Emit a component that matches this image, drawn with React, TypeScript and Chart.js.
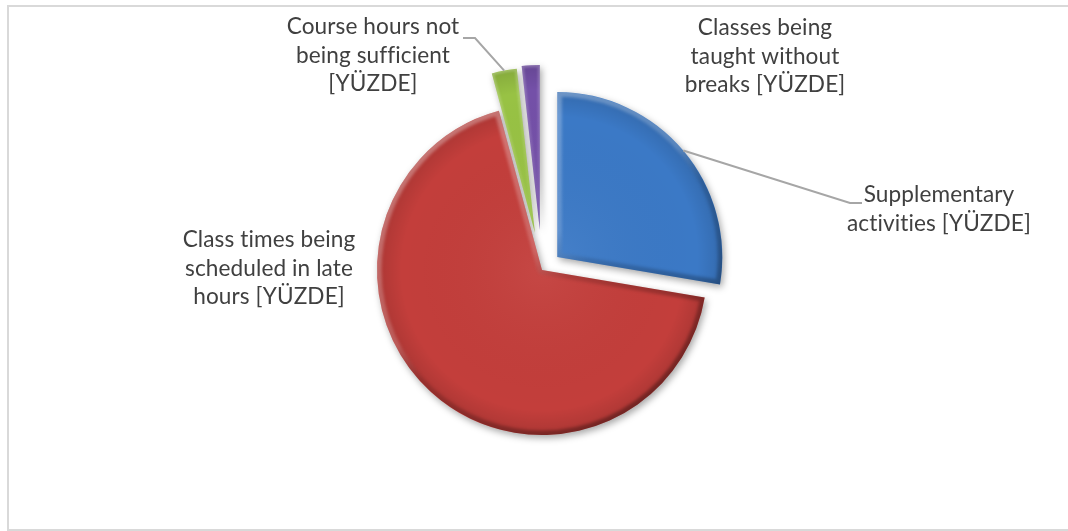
import React, { useEffect, useRef } from 'react';
import { Chart, registerables } from 'chart.js';

Chart.register(...registerables);

// ---- data ----
const categories: string[][] = [
  ['Supplementary', 'activities [YÜZDE]'],
  ['Class times being', 'scheduled in late', 'hours [YÜZDE]'],
  ['Course hours not', 'being sufficient', '[YÜZDE]'],
  ['Classes being', 'taught without', 'breaks [YÜZDE]'],
];
const values: number[] = [27.6, 68.0, 2.45, 1.75];

// ---- styles ----
const baseColors = ['#3b79c6', '#c33e3b', '#98c244', '#7450a8'];
const explode = [20, 0, 38, 40];
const RADIUS = 165;
const FONT_SIZE = 22.6;
const LINE_H = 28.5;
const TEXT_COLOR = '#404040';
// label centre x and first-line y, relative to the pie centre
const labelAnchors: number[][] = [[397, -75], [-273, -30], [-169, -243], [223, -242]];
// leader polylines (after the slice edge point), relative to pie centre
const leaders: { index: number; pts: number[][] }[] = [
  { index: 0, pts: [[308, -67], [320, -67]] },
  { index: 2, pts: [[-67, -232], [-79, -232]] },
];

function arcPath(ctx: CanvasRenderingContext2D, a: any) {
  ctx.beginPath();
  ctx.moveTo(a.x, a.y);
  ctx.arc(a.x, a.y, a.outerRadius, a.startAngle, a.endAngle);
  ctx.closePath();
}

const explodePlugin = {
  id: 'explodeSlices',
  afterDatasetsUpdate(chart: any) {
    const meta = chart.getDatasetMeta(0);
    meta.data.forEach((arc: any, i: number) => {
      const mid = (arc.startAngle + arc.endAngle) / 2;
      arc.x = arc.x + Math.cos(mid) * explode[i];
      arc.y = arc.y + Math.sin(mid) * explode[i];
    });
  },
};

const shadePlugin = {
  id: 'shadeSlices',
  beforeDatasetsDraw(chart: any) {
    const ctx = chart.ctx as CanvasRenderingContext2D;
    ctx.save();
    ctx.shadowColor = 'rgba(0,0,0,0.35)';
    ctx.shadowBlur = 7;
    ctx.shadowOffsetX = 2;
    ctx.shadowOffsetY = 3;
  },
  afterDatasetsDraw(chart: any) {
    const ctx = chart.ctx as CanvasRenderingContext2D;
    ctx.restore();
    const meta = chart.getDatasetMeta(0);
    meta.data.forEach((a: any) => {
      const R = a.outerRadius;
      const small = a.endAngle - a.startAngle < 0.3;
      ctx.save();
      arcPath(ctx, a);
      ctx.clip();
      // soft radial darkening toward the rim
      const rg = ctx.createRadialGradient(a.x, a.y, 0, a.x, a.y, R);
      rg.addColorStop(0, 'rgba(255,255,255,0.05)');
      rg.addColorStop(0.85, 'rgba(0,0,0,0.0)');
      rg.addColorStop(1, 'rgba(0,0,0,0.12)');
      ctx.fillStyle = rg;
      arcPath(ctx, a);
      ctx.fill();
      // bevel rim: light top-left, dark bottom-right
      const lg = ctx.createLinearGradient(a.x - R * 0.7, a.y - R, a.x + R * 0.7, a.y + R);
      lg.addColorStop(0, small ? 'rgba(255,255,255,0.3)' : 'rgba(255,255,255,0.35)');
      lg.addColorStop(0.45, small ? 'rgba(255,255,255,0.06)' : 'rgba(255,255,255,0.18)');
      lg.addColorStop(0.55, 'rgba(0,0,0,0.12)');
      lg.addColorStop(1, 'rgba(0,0,0,0.38)');
      ctx.filter = small ? 'blur(1px)' : 'blur(1.5px)';
      ctx.strokeStyle = lg;
      ctx.lineWidth = small ? 4 : 9;
      ctx.lineJoin = 'round';
      arcPath(ctx, a);
      ctx.stroke();
      ctx.filter = 'none';
      ctx.restore();
    });
  },
};

const labelPlugin = {
  id: 'sliceLabels',
  afterDraw(chart: any) {
    const ctx = chart.ctx as CanvasRenderingContext2D;
    const area = chart.chartArea;
    const cx = (area.left + area.right) / 2;
    const cy = (area.top + area.bottom) / 2;
    const meta = chart.getDatasetMeta(0);
    ctx.save();
    ctx.strokeStyle = '#a6a6a6';
    ctx.lineWidth = 2;
    leaders.forEach((l) => {
      const a: any = meta.data[l.index];
      const mid = (a.startAngle + a.endAngle) / 2;
      ctx.beginPath();
      ctx.moveTo(a.x + Math.cos(mid) * a.outerRadius, a.y + Math.sin(mid) * a.outerRadius);
      l.pts.forEach((p) => ctx.lineTo(cx + p[0], cy + p[1]));
      ctx.stroke();
    });
    ctx.font = `${FONT_SIZE}px Lato`;
    (ctx as any).letterSpacing = '0.1px';
    ctx.fillStyle = TEXT_COLOR;
    ctx.textAlign = 'center';
    ctx.textBaseline = 'middle';
    categories.forEach((lines, i) => {
      lines.forEach((t, j) => {
        ctx.fillText(t, cx + labelAnchors[i][0], cy + labelAnchors[i][1] + j * LINE_H);
      });
    });
    ctx.restore();
  },
};

export default function App() {
  const ref = useRef<HTMLCanvasElement | null>(null);
  useEffect(() => {
    if (!ref.current) return;
    const chart = new Chart(ref.current, {
      type: 'pie',
      data: {
        labels: categories.map((c) => c.join(' ')),
        datasets: [
          {
            data: values,
            backgroundColor: baseColors,
            borderWidth: 0,
            radius: RADIUS,
          } as any,
        ],
      },
      options: {
        responsive: false,
        animation: false,
        layout: { padding: { left: 16, right: 0, top: 9, bottom: 0 } },
        plugins: {
          legend: { display: false },
          tooltip: { enabled: false },
        },
      },
      plugins: [explodePlugin, shadePlugin, labelPlugin],
    });
    return () => chart.destroy();
  }, []);
  return (
    <div style={{ position: 'fixed', left: 0, top: 0, width: 1068, height: 531, background: '#fff', overflow: 'hidden' }}>
      <div
        style={{
          position: 'absolute',
          left: 7,
          top: 5,
          width: 1090,
          height: 526,
          border: '2px solid #d9d9d9',
          boxSizing: 'border-box',
        }}
      />
      <canvas ref={ref} width={1068} height={531} style={{ position: 'absolute', left: 0, top: 0, width: 1068, height: 531 }} />
    </div>
  );
}
